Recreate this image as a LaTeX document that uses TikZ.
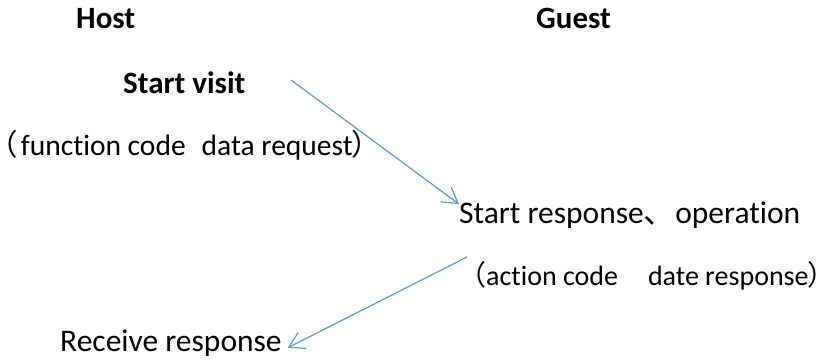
\documentclass[tikz,border=0pt]{standalone}
\usepackage{fontspec}
\setmainfont{Carlito}[Ligatures=NoCommon]
\newfontfamily\cjk{Noto Sans CJK SC}
\newfontfamily\cjkp[RawFeature=+palt]{Noto Sans CJK SC}
\usepackage{xcolor}
\usetikzlibrary{arrows.meta}
\definecolor{arrowblue}{RGB}{91,155,213}

\begin{document}
\begin{tikzpicture}[x=1pt,y=-1pt,
    lbl/.style={anchor=base west,inner sep=0pt,font=\fontsize{31.5}{36}\selectfont},
    head/.style={lbl,font=\fontsize{31}{36}\selectfont\bfseries},
    note/.style={lbl,font=\fontsize{28}{32}\selectfont},
    msg/.style={draw=arrowblue,line width=1.2pt,
        -{Straight Barb[length=15pt,width=18pt,line width=1.2pt]}}]
        \useasboundingbox (0,0) rectangle (830,359);

        % Column titles
        \node [head] (host) at (76,28) {Host};%
        \node [head] (guest) at (536,28) {Guest};%

        % Request from the host
        \node [head] (visit) at (123,93) {Start visit};%
        \node [note,font=\fontsize{29.5}{34}\selectfont] (req) at (2,155)
            {{\cjkp （}\hspace{4pt}function code\hspace{16pt}data request{\cjkp ）}};%

        % Answer of the guest
        \node [lbl] (oper) at (459,223) {Start response{\cjk 、}operation};%
        \node [note] (act) at (471,285) {{\cjkp （}\hspace{1pt}action code\hspace{30pt}date response{\cjkp ）}};%
        \node [lbl] (recv) at (60,351) {Receive response};%

        % Messages
        \coordinate (s1) at (291,80);%
        \coordinate (s2) at (467,257);%
        \draw [msg] (s1) -- ([yshift=-3pt]oper.north west);%
        \draw [msg] (s2) -- ([xshift=6pt,yshift=-5pt]recv.east);%
\end{tikzpicture}
\end{document}
